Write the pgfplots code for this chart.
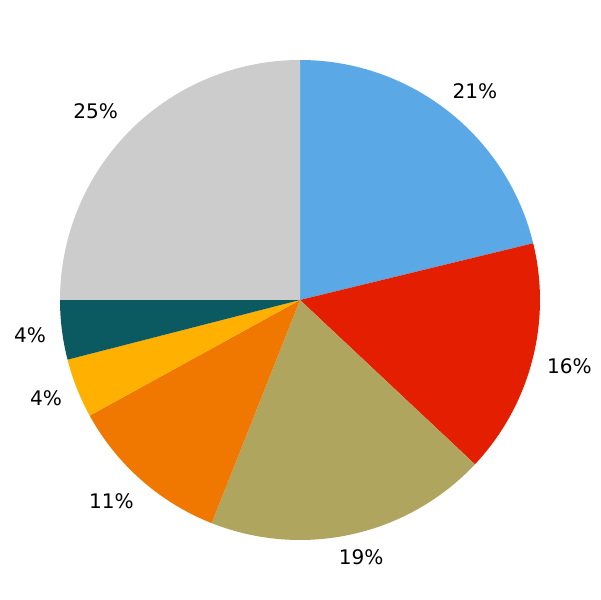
\documentclass[border=0pt]{standalone}
\usepackage{pgfplots}
\pgfplotsset{compat=1.18}
\usepackage{fontspec}
\setmainfont{DejaVu Sans}
\definecolor{c1}{HTML}{5AA9E6}
\definecolor{c2}{HTML}{E41E00}
\definecolor{c3}{HTML}{B0A55F}
\definecolor{c4}{HTML}{F07800}
\definecolor{c5}{HTML}{FFB000}
\definecolor{c6}{HTML}{0B5A62}
\definecolor{c7}{HTML}{CCCCCC}

\begin{document}
\begin{tikzpicture}
\begin{axis}[
    hide axis,
    scale only axis,
    width=433.6pt,
    height=433.6pt,
    xmin=-1.25, xmax=1.25,
    ymin=-1.25, ymax=1.25,
    clip=false,
]
\addplot[draw=none] coordinates {(-1.25,-1.25) (1.25,1.25)};
\pgfplotsextra{
  \xdef\start{90}
  % share / colour / label / label position
  \foreach \v/\c/\l/\lx/\ly in {
      21.2/c1/21/0.729/0.869,
      15.8/c2/16/1.123/-0.275,
      19.0/c3/19/0.255/-1.071,
      11.0/c4/11/-0.786/-0.838,
       4.0/c5/4/-1.058/-0.408,
       4.0/c6/4/-1.125/-0.146,
      25.0/c7/25/-0.851/0.785}{
    \pgfmathsetmacro\endang{\start-3.6*\v}
    \fill[\c] (axis cs:0,0) -- (axis cs:{cos(\start)},{sin(\start)})
      arc[start angle=\start, end angle=\endang, radius=173.44pt] -- cycle;
    \node[font=\fontsize{14.5}{17}\selectfont] at (axis cs:\lx,\ly) {\l\%};
    \xdef\start{\endang}
  }
}
\end{axis}
\end{tikzpicture}
\end{document}
